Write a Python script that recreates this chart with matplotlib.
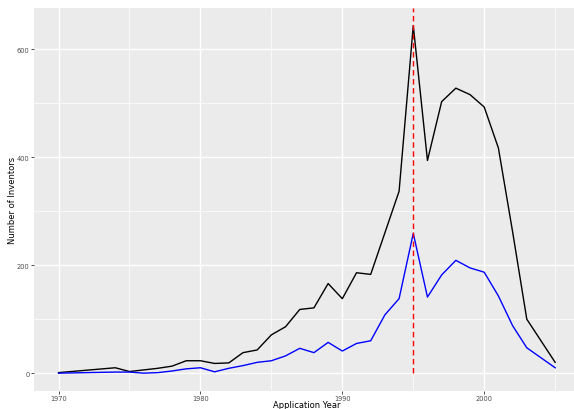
import matplotlib.pyplot as plt

# data
years = [1970, 1974, 1975, 1976, 1977, 1978, 1979, 1980, 1981, 1982, 1983, 1984,
         1985, 1986, 1987, 1988, 1989, 1990, 1991, 1992, 1993, 1994, 1995, 1996,
         1997, 1998, 1999, 2000, 2001, 2002, 2003, 2005]
all_inventors = [1, 10, 3, 6, 9, 13, 23, 23, 18, 19, 38, 43,
                 71, 86, 118, 121, 166, 138, 186, 183, 260, 337, 644, 394,
                 503, 528, 516, 493, 417, 262, 100, 20]
sub_inventors = [0, 2, 2, 0, 1, 4, 8, 10, 2.5, 9, 14, 20,
                 23, 32, 46, 38, 57, 41, 55, 60, 108, 138, 259, 141,
                 182, 209, 195, 187, 143, 88, 47, 10]
cutoff_year = 1995
x_ticks = [1970, 1980, 1990, 2000]
y_ticks = [0, 200, 400, 600]

fig = plt.figure(figsize=(5.74, 4.10), dpi=100)
# panel runs a little past the right edge, like the cropped original
ax = fig.add_axes([33.7 / 574, 1 - 391.7 / 410, (580 - 33.7) / 574, (391.7 - 9) / 410])
ax.set_facecolor('#EBEBEB')

ax.set_xlim(1968.25, 2006.75)
ax.set_ylim(-32.5, 676.5)

# grid like ggplot: major and minor white lines
ax.set_xticks(x_ticks)
ax.set_yticks(y_ticks)
ax.set_xticks([1975, 1985, 1995, 2005], minor=True)
ax.set_yticks([100, 300, 500], minor=True)
ax.grid(which='major', color='white', linewidth=1.0)
ax.grid(which='minor', color='white', linewidth=0.5)
ax.set_axisbelow(True)
for s in ax.spines.values():
    s.set_visible(False)

ax.plot(years, all_inventors, color='black', linewidth=1.0)
ax.plot(years, sub_inventors, color='blue', linewidth=1.0)
ax.plot([cutoff_year, cutoff_year], [0, 676.5], color='#FF0000', linewidth=1.0,
        linestyle=(0, (4, 2.5)), zorder=5)

ax.tick_params(which='major', length=2, width=0.6, color='#333333',
               labelsize=4.8, labelcolor='#4D4D4D', pad=1.0)
ax.tick_params(which='minor', length=0)

ax.set_xlabel('Application Year', fontsize=6)
ax.set_ylabel('Number of Inventors', fontsize=6)
ax.xaxis.set_label_coords(0.5, -9.0 / 382.7)
ax.yaxis.set_label_coords(-17.0 / 546.3, 0.5)

fig.savefig('out.png', dpi=100)
